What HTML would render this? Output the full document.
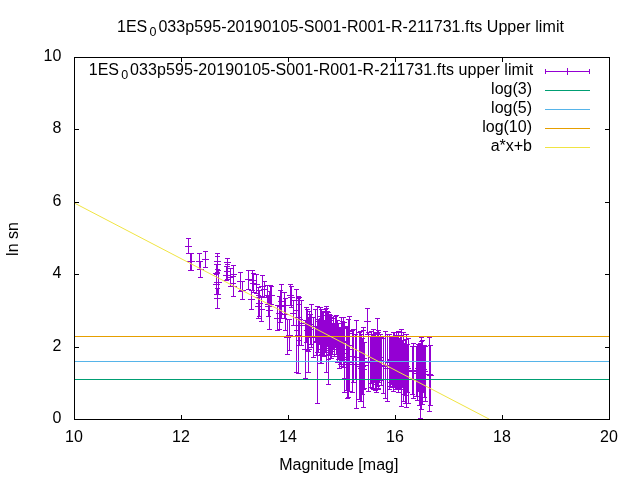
<!DOCTYPE html><html><head><meta charset="utf-8"><style>html,body{margin:0;padding:0;background:#fff;overflow:hidden}svg{display:block;will-change:transform}text{font-family:"Liberation Sans",sans-serif;font-size:16px;fill:#000}</style></head><body><svg width="640" height="480" viewBox="0 0 640 480"><rect width="640" height="480" fill="#fff"/><path d="M188.5 238V254M186 238.5h5M186 253.5h5M185 246.5h7M188.5 243v7M190.5 253V271M188 253.5h5M188 270.5h5M187 261.5h7M190.5 258v7M191.5 253V271M189 253.5h5M189 270.5h5M188 261.5h7M191.5 258v7M199.5 253V270M197 253.5h5M197 269.5h5M196 261.5h7M199.5 258v7M200.5 261V278M198 261.5h5M198 277.5h5M197 269.5h7M200.5 266v7M205.5 251V268M203 251.5h5M203 267.5h5M202 259.5h7M205.5 256v7M217.5 253V270M215 253.5h5M215 269.5h5M214 261.5h7M217.5 258v7M217.5 256V273M215 256.5h5M215 272.5h5M214 264.5h7M217.5 261v7M216.5 264V283M214 264.5h5M214 282.5h5M213 273.5h7M216.5 270v7M218.5 270V295M216 270.5h5M216 294.5h5M215 282.5h7M218.5 279v7M216.5 274V295M214 274.5h5M214 294.5h5M213 284.5h7M216.5 281v7M217.5 288V309M215 288.5h5M215 308.5h5M214 298.5h7M217.5 295v7M227.5 258V267M225 258.5h5M225 266.5h5M224 262.5h7M227.5 259v7M227.5 264V280M225 264.5h5M225 279.5h5M224 271.5h7M227.5 268v7M226.5 266V281M224 266.5h5M224 280.5h5M223 275.5h7M226.5 272v7M230.5 268V287M228 268.5h5M228 286.5h5M227 277.5h7M230.5 274v7M233.5 265V284M231 265.5h5M231 283.5h5M230 274.5h7M233.5 271v7M233.5 276V297M231 276.5h5M231 296.5h5M230 286.5h7M233.5 283v7M240.5 272V292M238 272.5h5M238 291.5h5M237 281.5h7M240.5 278v7M242.5 281V300M240 281.5h5M240 299.5h5M239 290.5h7M242.5 287v7M248.5 270V290M246 270.5h5M246 289.5h5M245 279.5h7M248.5 276v7M252.5 270V291M250 270.5h5M250 290.5h5M249 280.5h7M252.5 277v7M251.5 290V310M249 290.5h5M249 309.5h5M248 299.5h7M251.5 296v7M253.5 273V293M251 273.5h5M251 292.5h5M250 283.5h7M253.5 280v7M256.5 274V294M254 274.5h5M254 293.5h5M253 284.5h7M256.5 281v7M258.5 295V319M256 295.5h5M256 318.5h5M255 306.5h7M258.5 303v7M261.5 297V322M259 297.5h5M259 321.5h5M258 309.5h7M261.5 306v7M262.5 275V297M260 275.5h5M260 296.5h5M259 286.5h7M262.5 283v7M264.5 281V298M262 281.5h5M262 297.5h5M261 289.5h7M264.5 286v7M267.5 285V305M265 285.5h5M265 304.5h5M264 295.5h7M267.5 292v7M270.5 285V305M268 285.5h5M268 304.5h5M267 295.5h7M270.5 292v7M271.5 286V305M269 286.5h5M269 304.5h5M268 295.5h7M271.5 292v7M269.5 291V330M267 291.5h5M267 329.5h5M266 310.5h7M269.5 307v7M268.5 296V317M266 296.5h5M266 316.5h5M265 306.5h7M268.5 303v7M258.5 287V307M256 287.5h5M256 306.5h5M255 297.5h7M258.5 294v7M259.5 290V317M257 290.5h5M257 316.5h5M256 303.5h7M259.5 300v7M277.5 305V331M275 305.5h5M275 330.5h5M274 318.5h7M277.5 315v7M279.5 296V330M277 296.5h5M277 329.5h5M276 313.5h7M279.5 310v7M281.5 284V319M279 284.5h5M279 318.5h5M278 301.5h7M281.5 298v7M280.5 290V323M278 290.5h5M278 322.5h5M277 306.5h7M280.5 303v7M284.5 292V319M282 292.5h5M282 318.5h5M281 305.5h7M284.5 302v7M285.5 298V331M283 298.5h5M283 330.5h5M282 314.5h7M285.5 311v7M287.5 319V355M285 319.5h5M285 354.5h5M284 337.5h7M287.5 334v7M289.5 319V351M287 319.5h5M287 350.5h5M286 335.5h7M289.5 332v7M290.5 284V306M288 284.5h5M288 305.5h5M287 295.5h7M290.5 292v7M291.5 286V308M289 286.5h5M289 307.5h5M288 297.5h7M291.5 294v7M293.5 300V326M291 300.5h5M291 325.5h5M290 313.5h7M293.5 310v7M296.5 289V331M294 289.5h5M294 330.5h5M293 310.5h7M296.5 307v7M296.5 300V373M294 300.5h5M294 372.5h5M293 336.5h7M296.5 333v7M298.5 298V336M296 298.5h5M296 335.5h5M295 317.5h7M298.5 314v7M299.5 297V341M297 297.5h5M297 340.5h5M296 319.5h7M299.5 316v7M301.5 300V346M299 300.5h5M299 345.5h5M298 323.5h7M301.5 320v7M305.5 320V379M303 320.5h5M303 378.5h5M302 349.5h7M305.5 346v7M308.5 326V373M306 326.5h5M306 372.5h5M305 349.5h7M308.5 346v7M317.5 306V404M315 306.5h5M315 403.5h5M314 355.5h7M317.5 352v7M321.5 318V364M319 318.5h5M319 363.5h5M318 341.5h7M321.5 338v7M326.5 306V373M324 306.5h5M324 372.5h5M323 339.5h7M326.5 336v7M328.5 312V385M326 312.5h5M326 384.5h5M325 348.5h7M328.5 345v7M344.5 322V393M342 322.5h5M342 392.5h5M341 357.5h7M344.5 354v7M348.5 330V398M346 330.5h5M346 397.5h5M345 364.5h7M348.5 361v7M356.5 320V409M354 320.5h5M354 408.5h5M353 364.5h7M356.5 361v7M363.5 330V408M361 330.5h5M361 407.5h5M360 369.5h7M363.5 366v7M349.5 316V346M347 316.5h5M347 345.5h5M346 331.5h7M349.5 328v7M367.5 308V335M365 308.5h5M365 334.5h5M364 321.5h7M367.5 318v7M377.5 318V346M375 318.5h5M375 345.5h5M374 332.5h7M377.5 329v7M401.5 329V407M399 329.5h5M399 406.5h5M398 368.5h7M401.5 365v7M406.5 334V408M404 334.5h5M404 407.5h5M403 371.5h7M406.5 368v7M420.5 343V419M418 343.5h5M418 418.5h5M417 381.5h7M420.5 378v7M421.5 337V410M419 337.5h5M419 409.5h5M418 373.5h7M421.5 370v7M429.5 337V412M427 337.5h5M427 411.5h5M426 374.5h7M429.5 371v7M430.5 345V406M428 345.5h5M428 405.5h5M427 375.5h7M430.5 372v7M298.5 296V374M296 296.5h5M296 373.5h5M295 335.5h7M298.5 332v7M299.5 304V346M297 304.5h5M297 345.5h5M296 325.5h7M299.5 322v7M306.5 307V343M304 307.5h5M304 342.5h5M303 325.5h7M306.5 322v7M307.5 309V351M305 309.5h5M305 350.5h5M304 330.5h7M307.5 327v7M308.5 317V352M306 317.5h5M306 351.5h5M305 334.5h7M308.5 331v7M309.5 311V338M307 311.5h5M307 337.5h5M306 324.5h7M309.5 321v7M310.5 314V345M308 314.5h5M308 344.5h5M307 329.5h7M310.5 326v7M311.5 304V348M309 304.5h5M309 347.5h5M308 326.5h7M311.5 323v7M313.5 317V358M311 317.5h5M311 357.5h5M310 337.5h7M313.5 334v7M315.5 309V343M313 309.5h5M313 342.5h5M312 326.5h7M315.5 323v7M316.5 326V356M314 326.5h5M314 355.5h5M313 341.5h7M316.5 338v7M317.5 321V353M315 321.5h5M315 352.5h5M314 337.5h7M317.5 334v7M318.5 319V353M316 319.5h5M316 352.5h5M315 336.5h7M318.5 333v7M319.5 320V345M317 320.5h5M317 344.5h5M316 332.5h7M319.5 329v7M320.5 316V364M318 316.5h5M318 363.5h5M317 340.5h7M320.5 337v7M320.5 307V350M318 307.5h5M318 349.5h5M317 328.5h7M320.5 325v7M321.5 309V355M319 309.5h5M319 354.5h5M318 332.5h7M321.5 329v7M322.5 315V353M320 315.5h5M320 352.5h5M319 334.5h7M322.5 331v7M322.5 311V354M320 311.5h5M320 353.5h5M319 332.5h7M322.5 329v7M323.5 311V344M321 311.5h5M321 343.5h5M320 327.5h7M323.5 324v7M323.5 312V357M321 312.5h5M321 356.5h5M320 334.5h7M323.5 331v7M324.5 320V356M322 320.5h5M322 355.5h5M321 338.5h7M324.5 335v7M325.5 309V353M323 309.5h5M323 352.5h5M322 331.5h7M325.5 328v7M326.5 308V351M324 308.5h5M324 350.5h5M323 329.5h7M326.5 326v7M327.5 311V347M325 311.5h5M325 346.5h5M324 329.5h7M327.5 326v7M327.5 314V344M325 314.5h5M325 343.5h5M324 329.5h7M327.5 326v7M328.5 318V355M326 318.5h5M326 354.5h5M325 336.5h7M328.5 333v7M328.5 322V360M326 322.5h5M326 359.5h5M325 341.5h7M328.5 338v7M329.5 316V356M327 316.5h5M327 355.5h5M326 336.5h7M329.5 333v7M329.5 314V356M327 314.5h5M327 355.5h5M326 335.5h7M329.5 332v7M330.5 320V359M328 320.5h5M328 358.5h5M327 339.5h7M330.5 336v7M330.5 315V350M328 315.5h5M328 349.5h5M327 332.5h7M330.5 329v7M331.5 317V352M329 317.5h5M329 351.5h5M328 334.5h7M331.5 331v7M331.5 317V359M329 317.5h5M329 358.5h5M328 338.5h7M331.5 335v7M332.5 323V355M330 323.5h5M330 354.5h5M329 339.5h7M332.5 336v7M333.5 318V350M331 318.5h5M331 349.5h5M330 334.5h7M333.5 331v7M334.5 323V357M332 323.5h5M332 356.5h5M331 340.5h7M334.5 337v7M335.5 316V348M333 316.5h5M333 347.5h5M332 332.5h7M335.5 329v7M336.5 315V355M334 315.5h5M334 354.5h5M333 335.5h7M336.5 332v7M337.5 320V363M335 320.5h5M335 362.5h5M334 341.5h7M337.5 338v7M338.5 323V360M336 323.5h5M336 359.5h5M335 341.5h7M338.5 338v7M339.5 327V369M337 327.5h5M337 368.5h5M336 348.5h7M339.5 345v7M340.5 328V365M338 328.5h5M338 364.5h5M337 346.5h7M340.5 343v7M341.5 317V367M339 317.5h5M339 366.5h5M338 342.5h7M341.5 339v7M342.5 321V361M340 321.5h5M340 360.5h5M339 341.5h7M342.5 338v7M343.5 317V368M341 317.5h5M341 367.5h5M340 342.5h7M343.5 339v7M344.5 328V379M342 328.5h5M342 378.5h5M341 353.5h7M344.5 350v7M346.5 327V391M344 327.5h5M344 390.5h5M343 359.5h7M346.5 356v7M347.5 326V399M345 326.5h5M345 398.5h5M344 362.5h7M347.5 359v7M348.5 319V380M346 319.5h5M346 379.5h5M345 349.5h7M348.5 346v7M349.5 333V392M347 333.5h5M347 391.5h5M346 362.5h7M349.5 359v7M352.5 330V393M350 330.5h5M350 392.5h5M349 361.5h7M352.5 358v7M353.5 329V383M351 329.5h5M351 382.5h5M350 356.5h7M353.5 353v7M355.5 334V380M353 334.5h5M353 379.5h5M352 357.5h7M355.5 354v7M359.5 332V400M357 332.5h5M357 399.5h5M356 366.5h7M359.5 363v7M360.5 331V402M358 331.5h5M358 401.5h5M357 366.5h7M360.5 363v7M361.5 334V402M359 334.5h5M359 401.5h5M358 368.5h7M361.5 365v7M362.5 338V395M360 338.5h5M360 394.5h5M359 366.5h7M362.5 363v7M363.5 327V390M361 327.5h5M361 389.5h5M360 358.5h7M363.5 355v7M364.5 342V389M362 342.5h5M362 388.5h5M361 365.5h7M364.5 362v7M368.5 332V392M366 332.5h5M366 391.5h5M365 362.5h7M368.5 359v7M370.5 336V388M368 336.5h5M368 387.5h5M367 362.5h7M370.5 359v7M371.5 331V384M369 331.5h5M369 383.5h5M368 357.5h7M371.5 354v7M372.5 334V389M370 334.5h5M370 388.5h5M369 361.5h7M372.5 358v7M373.5 329V389M371 329.5h5M371 388.5h5M370 359.5h7M373.5 356v7M373.5 334V390M371 334.5h5M371 389.5h5M370 362.5h7M373.5 359v7M374.5 334V383M372 334.5h5M372 382.5h5M371 358.5h7M374.5 355v7M375.5 333V391M373 333.5h5M373 390.5h5M372 362.5h7M375.5 359v7M376.5 336V385M374 336.5h5M374 384.5h5M373 360.5h7M376.5 357v7M376.5 336V393M374 336.5h5M374 392.5h5M373 364.5h7M376.5 361v7M377.5 333V387M375 333.5h5M375 386.5h5M374 360.5h7M377.5 357v7M378.5 330V390M376 330.5h5M376 389.5h5M375 360.5h7M378.5 357v7M378.5 330V389M376 330.5h5M376 388.5h5M375 359.5h7M378.5 356v7M379.5 338V383M377 338.5h5M377 382.5h5M376 360.5h7M379.5 357v7M380.5 334V381M378 334.5h5M378 380.5h5M377 357.5h7M380.5 354v7M381.5 337V386M379 337.5h5M379 385.5h5M378 361.5h7M381.5 358v7M383.5 338V394M381 338.5h5M381 393.5h5M380 366.5h7M383.5 363v7M385.5 331V399M383 331.5h5M383 398.5h5M382 365.5h7M385.5 362v7M387.5 334V402M385 334.5h5M385 401.5h5M384 368.5h7M387.5 365v7M389.5 334V390M387 334.5h5M387 389.5h5M386 362.5h7M389.5 359v7M390.5 336V383M388 336.5h5M388 382.5h5M387 359.5h7M390.5 356v7M390.5 336V387M388 336.5h5M388 386.5h5M387 361.5h7M390.5 358v7M391.5 336V385M389 336.5h5M389 384.5h5M388 360.5h7M391.5 357v7M392.5 336V388M390 336.5h5M390 387.5h5M389 362.5h7M392.5 359v7M393.5 337V381M391 337.5h5M391 380.5h5M390 359.5h7M393.5 356v7M393.5 332V392M391 332.5h5M391 391.5h5M390 362.5h7M393.5 359v7M394.5 332V388M392 332.5h5M392 387.5h5M391 360.5h7M394.5 357v7M395.5 335V390M393 335.5h5M393 389.5h5M392 362.5h7M395.5 359v7M395.5 337V387M393 337.5h5M393 386.5h5M392 362.5h7M395.5 359v7M396.5 332V388M394 332.5h5M394 387.5h5M393 360.5h7M396.5 357v7M397.5 339V389M395 339.5h5M395 388.5h5M394 364.5h7M397.5 361v7M398.5 331V393M396 331.5h5M396 392.5h5M395 362.5h7M398.5 359v7M398.5 338V385M396 338.5h5M396 384.5h5M395 361.5h7M398.5 358v7M399.5 343V386M397 343.5h5M397 385.5h5M396 364.5h7M399.5 361v7M399.5 339V387M397 339.5h5M397 386.5h5M396 363.5h7M399.5 360v7M400.5 335V390M398 335.5h5M398 389.5h5M397 362.5h7M400.5 359v7M401.5 332V388M399 332.5h5M399 387.5h5M398 360.5h7M401.5 357v7M402.5 340V388M400 340.5h5M400 387.5h5M399 364.5h7M402.5 361v7M403.5 332V402M401 332.5h5M401 401.5h5M400 367.5h7M403.5 364v7M404.5 343V395M402 343.5h5M402 394.5h5M401 369.5h7M404.5 366v7M405.5 339V404M403 339.5h5M403 403.5h5M402 371.5h7M405.5 368v7M406.5 336V396M404 336.5h5M404 395.5h5M403 366.5h7M406.5 363v7M407.5 344V393M405 344.5h5M405 392.5h5M404 368.5h7M407.5 365v7M408.5 338V404M406 338.5h5M406 403.5h5M405 371.5h7M408.5 368v7M412.5 346V395M410 346.5h5M410 394.5h5M409 370.5h7M412.5 367v7M413.5 343V399M411 343.5h5M411 398.5h5M410 371.5h7M413.5 368v7M416.5 346V397M414 346.5h5M414 396.5h5M413 371.5h7M416.5 368v7M417.5 346V401M415 346.5h5M415 400.5h5M414 373.5h7M417.5 370v7M418.5 344V392M416 344.5h5M416 391.5h5M415 368.5h7M418.5 365v7M419.5 345V406M417 345.5h5M417 405.5h5M416 375.5h7M419.5 372v7M421.5 341V410M419 341.5h5M419 409.5h5M418 375.5h7M421.5 372v7M422.5 340V405M420 340.5h5M420 404.5h5M419 372.5h7M422.5 369v7M423.5 346V393M421 346.5h5M421 392.5h5M420 369.5h7M423.5 366v7M424.5 345V398M422 345.5h5M422 397.5h5M421 371.5h7M424.5 368v7M425.5 346V402M423 346.5h5M423 401.5h5M422 374.5h7M425.5 371v7" stroke="#9400d3" stroke-width="1" fill="none"/><path d="M74.5 336.5H609.5" stroke="#e69f00" stroke-width="1"/><path d="M74.5 361.5H609.5" stroke="#56b4e9" stroke-width="1"/><path d="M74.5 379.5H609.5" stroke="#009e73" stroke-width="1"/><path d="M74.5 203.1L489.5 419.3" fill="none" stroke="#f0e442" stroke-width="1"/><rect x="74.5" y="57.5" width="535.0" height="362.0" fill="none" stroke="#000" stroke-width="1"/><path d="M74.5 419.5v-4.5M74.5 57.5v4.5M181.5 419.5v-4.5M181.5 57.5v4.5M288.5 419.5v-4.5M288.5 57.5v4.5M395.5 419.5v-4.5M395.5 57.5v4.5M502.5 419.5v-4.5M502.5 57.5v4.5M609.5 419.5v-4.5M609.5 57.5v4.5M74.5 419.5h4.5M609.5 419.5h-4.5M74.5 347.5h4.5M609.5 347.5h-4.5M74.5 274.5h4.5M609.5 274.5h-4.5M74.5 202.5h4.5M609.5 202.5h-4.5M74.5 129.5h4.5M609.5 129.5h-4.5M74.5 57.5h4.5M609.5 57.5h-4.5" stroke="#000" stroke-width="1" fill="none"/><text transform="translate(61.30 423.00)" text-anchor="end">0</text><text transform="translate(61.30 351.00)" text-anchor="end">2</text><text transform="translate(61.30 278.00)" text-anchor="end">4</text><text transform="translate(61.30 206.00)" text-anchor="end">6</text><text transform="translate(61.30 133.00)" text-anchor="end">8</text><text transform="translate(61.30 61.00)" text-anchor="end">10</text><text transform="translate(73.90 442.00)" text-anchor="middle">10</text><text transform="translate(180.90 442.00)" text-anchor="middle">12</text><text transform="translate(287.90 442.00)" text-anchor="middle">14</text><text transform="translate(394.90 442.00)" text-anchor="middle">16</text><text transform="translate(501.90 442.00)" text-anchor="middle">18</text><text transform="translate(608.90 442.00)" text-anchor="middle">20</text><text transform="translate(338.80 470.00)" text-anchor="middle">Magnitude [mag]</text><text transform="translate(18 239) rotate(-90)" text-anchor="middle">ln sn</text><text transform="translate(117.00 32.00)">1ES</text><text transform="translate(149.40 36.00)" style="font-size:12.5px">0</text><text transform="translate(158.40 32.00)" textLength="405.6">033p595-20190105-S001-R001-R-211731.fts Upper limit</text><text transform="translate(88.80 75.00)">1ES</text><text transform="translate(121.20 79.00)" style="font-size:12.5px">0</text><text transform="translate(130.10 75.00)" textLength="403">033p595-20190105-S001-R001-R-211731.fts upper limit</text><text transform="translate(532.00 94.00)" text-anchor="end">log(3)</text><path d="M545 90.5H590" stroke="#009e73" stroke-width="1"/><text transform="translate(532.00 113.00)" text-anchor="end">log(5)</text><path d="M545 109.5H590" stroke="#56b4e9" stroke-width="1"/><text transform="translate(532.00 132.00)" text-anchor="end">log(10)</text><path d="M545 128.5H590" stroke="#e69f00" stroke-width="1"/><text transform="translate(532.00 151.00)" text-anchor="end">a*x+b</text><path d="M545 147.5H590" stroke="#f0e442" stroke-width="1"/><path d="M545 71.5H590M545.5 69.0v5M589.5 69.0v5M567.5 68.0v7" stroke="#9400d3" stroke-width="1" fill="none"/></svg></body></html>
